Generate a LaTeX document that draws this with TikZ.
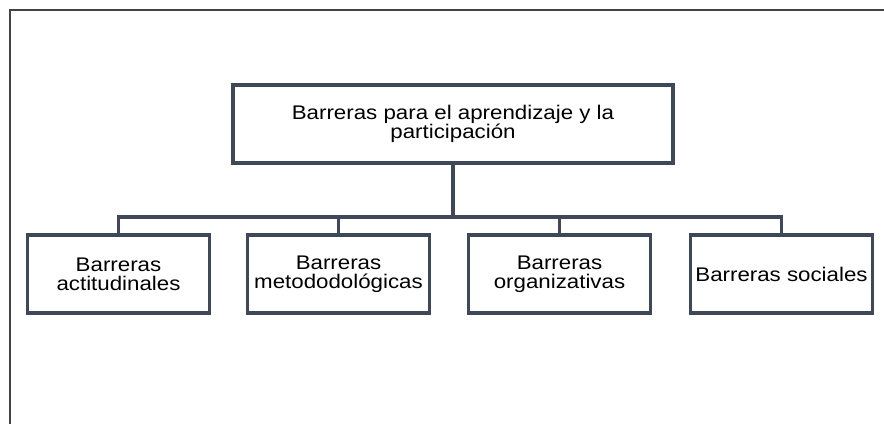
\documentclass[tikz,border=0pt]{standalone}
\usepackage{fontspec}
\setmainfont{Liberation Sans}[FakeStretch=1.13]
\usepackage{tikz}
\definecolor{boxline}{HTML}{3E4858}
\definecolor{frameline}{HTML}{444444}
\tikzset{
    barrera/.style={draw=boxline, line width=2.3pt, minimum width=137pt, minimum height=58.5pt,
        align=center, inner sep=0pt, font=\fontsize{14.8pt}{14.3pt}\selectfont},
    enlace/.style={draw=boxline, line width=2.3pt}
}

\begin{document}
\begin{tikzpicture}[x=0.75pt, y=-0.75pt]
            \useasboundingbox (0,0) rectangle (884,424);
            \draw[frameline, line width=1.6pt] (10,424) -- (10,10) -- (884,10);

            \node (top) [barrera, minimum width=330pt] at (453,124) {Barreras para el aprendizaje y la\\participación};
            \node (actit) [barrera] at (118.5,274) {Barreras\\actitudinales};
            \node (metod) [barrera] at (338.5,274) {Barreras\\metododológicas};
            \node (organ) [barrera] at (559.5,274) {Barreras\\organizativas};
            \node (soc) [barrera] at (781.5,274) {Barreras sociales};

            \coordinate (bus) at (453,217);
            \draw[enlace] (top.south) -- (bus);
            \draw[enlace] (actit.north) |- (bus);
            \draw[enlace] (metod.north) |- (bus);
            \draw[enlace] (organ.north) |- (bus);
            \draw[enlace] (soc.north) |- (bus);
        \end{tikzpicture}
\end{document}
